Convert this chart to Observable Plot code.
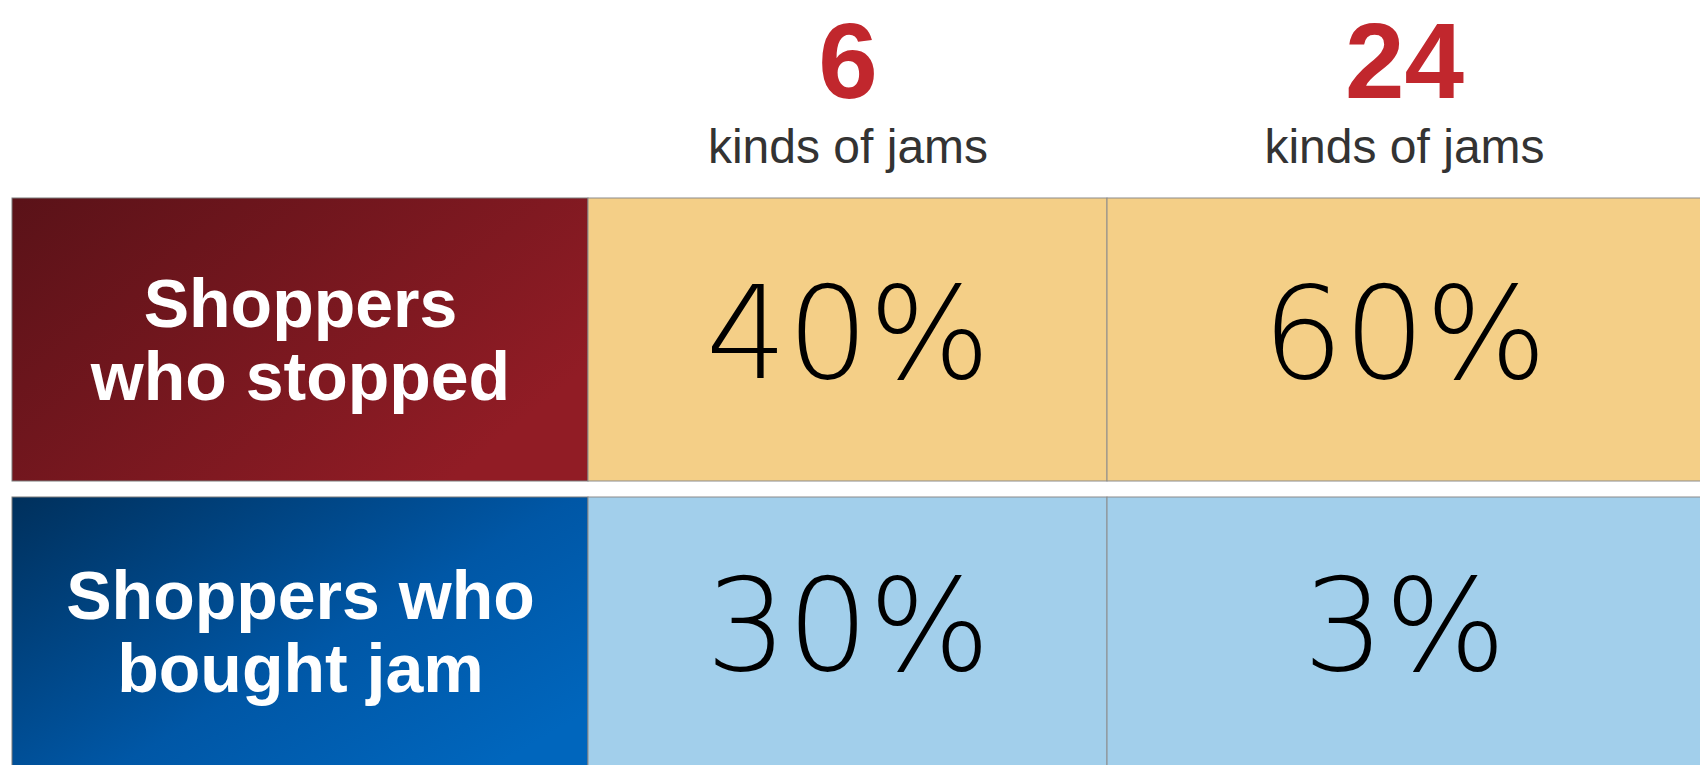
<!DOCTYPE html>
<html>
<head>
<meta charset="utf-8">
<script src="https://cdn.jsdelivr.net/npm/d3@7"></script>
<script src="https://cdn.jsdelivr.net/npm/@observablehq/plot@0.6"></script>
<style>
  html, body { margin: 0; padding: 0; background: #fff; }
  #chart svg { display: block; }
</style>
</head>
<body>
<div id="chart"></div>
<script>
// ---- data ----
const columnNumbers = ["6", "24"];
const columnSubtitles = ["kinds of jams", "kinds of jams"];
const rowLabels = ["Shoppers\nwho stopped", "Shoppers who\nbought jam"];
const stoppedPct = [40, 60];
const boughtPct = [30, 3];

// ---- layout (pixel space) ----
const W = 1700, H = 765;
const colEdges = [12, 588, 1107, 1701];
const rowEdges = [[198, 481], [497, 766]];
const headerNumberBaseline = 97;
const headerSubtitleBaseline = 162;
const labelFills = ["url(#gRed)", "url(#gBlue)"];
const cellFills = ["#f4cf87", "#a2cfeb"];

// ---- tables built from the arrays ----
const headers = columnNumbers.map((n, j) => ({
  num: n, sub: columnSubtitles[j],
  x: (colEdges[j + 1] + colEdges[j + 2]) / 2
}));
const labels = rowLabels.map((t, i) => ({
  label: t,
  x1: colEdges[0], x2: colEdges[1],
  y1: rowEdges[i][0], y2: rowEdges[i][1],
  fill: labelFills[i]
}));
const values = [stoppedPct, boughtPct];
const cells = [];
values.forEach((row, i) => row.forEach((v, j) => cells.push({
  value: v,
  x1: colEdges[j + 1], x2: colEdges[j + 2],
  y1: rowEdges[i][0], y2: rowEdges[i][1],
  fill: cellFills[i]
})));

const gradients = () => {
  const defs = d3.create("svg:defs");
  const r = defs.append("linearGradient").attr("id", "gRed")
    .attr("x1", "0").attr("y1", "0").attr("x2", "1").attr("y2", "0.6");
  r.append("stop").attr("offset", "0%").attr("stop-color", "#5a1218");
  r.append("stop").attr("offset", "100%").attr("stop-color", "#911c25");
  const b = defs.append("linearGradient").attr("id", "gBlue")
    .attr("x1", "0").attr("y1", "0").attr("x2", "1").attr("y2", "0.8");
  b.append("stop").attr("offset", "0%").attr("stop-color", "#00305c");
  b.append("stop").attr("offset", "60%").attr("stop-color", "#0057a6");
  b.append("stop").attr("offset", "100%").attr("stop-color", "#0066bd");
  return defs.node();
};

const chart = Plot.plot({
  width: W,
  height: H,
  margin: 0,
  x: { type: "linear", domain: [0, W], range: [0, W], axis: null },
  y: { type: "linear", domain: [0, H], range: [0, H], axis: null },
  color: { type: "identity" },
  style: { background: "#fff" },
  marks: [
    gradients,
    Plot.rect(labels, {
      x1: "x1", x2: "x2", y1: "y1", y2: "y2",
      fill: "fill", stroke: "#7a7a7a", strokeWidth: 1
    }),
    Plot.rect(cells, {
      x1: "x1", x2: "x2", y1: "y1", y2: "y2",
      fill: "fill", stroke: "#8c8c8c", strokeWidth: 1
    }),
    Plot.text(labels, {
      x: d => (d.x1 + d.x2) / 2, y: d => (d.y1 + d.y2) / 2,
      text: "label", fill: "#ffffff",
      fontSize: 68, fontWeight: "bold",
      fontFamily: "'Liberation Sans', Arial, sans-serif",
      lineHeight: 1.08, lineAnchor: "middle"
    }),
    Plot.text(cells, {
      x: d => (d.x1 + d.x2) / 2, y: d => (d.y1 + d.y2) / 2,
      text: d => `${d.value}%`, fill: "#000000",
      fontSize: 128, fontWeight: 300,
      fontFamily: "'DejaVu Sans', sans-serif",
      lineAnchor: "middle", dy: -3
    }),
    Plot.text(headers, {
      x: "x", y: () => headerNumberBaseline,
      text: "num", fill: "#c1272d",
      fontSize: 107, fontWeight: "bold",
      fontFamily: "'Liberation Sans', Arial, sans-serif",
      lineAnchor: "bottom"
    }),
    Plot.text(headers, {
      x: "x", y: () => headerSubtitleBaseline,
      text: "sub", fill: "#333333",
      fontSize: 48,
      fontFamily: "'Liberation Sans', Arial, sans-serif",
      lineAnchor: "bottom"
    })
  ]
});

document.getElementById("chart").appendChild(chart);
</script>
</body>
</html>
